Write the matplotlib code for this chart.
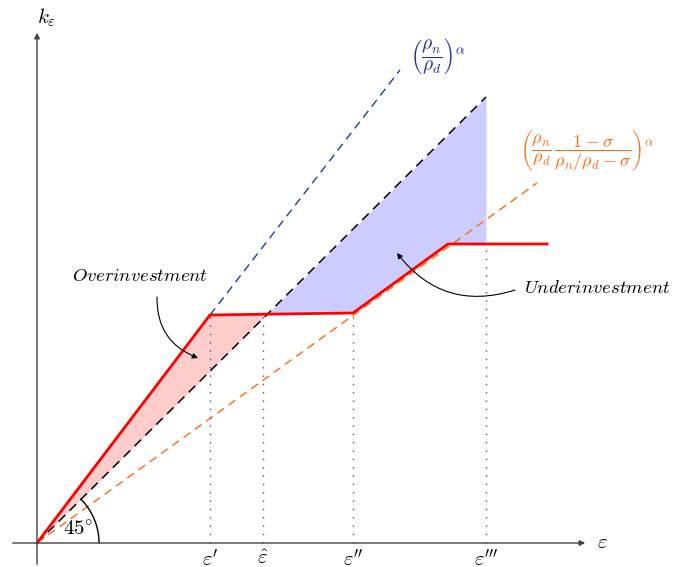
import numpy as np
import matplotlib.pyplot as plt

plt.rcParams['mathtext.fontset'] = 'cm'
plt.rcParams['font.family'] = 'serif'
plt.rcParams['font.serif'] = ['DejaVu Serif']

# points (origin at the axes crossing)
eps_labels = [r"$\varepsilon'$", r"$\hat{\varepsilon}$", r"$\varepsilon''$", r"$\varepsilon'''$"]
eps_vals = [173, 226, 316, 449]

red_x = [0, 173, 316, 411, 510]
red_y = [0, 228, 230, 299, 299]

diag_end = (449, 446)      # 45 degree line
blue_start = (173, 228)
blue_end = (363, 473)      # (rho_n/rho_d)^alpha
orange_end = (500, 360)

fig = plt.figure(figsize=(6.78, 5.67), dpi=100)
ax = fig.add_axes([0, 0, 1, 1])
ax.set_xlim(-37, 641)
ax.set_ylim(-24, 543)
ax.axis('off')

# axes with arrows
ax.annotate('', xy=(551, 0), xytext=(-27, 0),
            arrowprops=dict(arrowstyle='-|>', color='#444444', lw=1.0, mutation_scale=8))
ax.annotate('', xy=(0, 513), xytext=(0, -24),
            arrowprops=dict(arrowstyle='-|>', color='#444444', lw=1.0, mutation_scale=8))
ax.text(0, 525, r'$k_\varepsilon$', fontsize=15, ha='left', va='center')
ax.text(560, 0, r'$\varepsilon$', fontsize=15, ha='left', va='center')

slope = diag_end[1] / diag_end[0]

# shaded regions
xs = np.linspace(0, eps_vals[1], 50)
ax.fill_between(xs, np.interp(xs, red_x, red_y), xs * slope, color='#ffcccc', lw=0)
xs = np.linspace(eps_vals[1], eps_vals[3], 200)
ax.fill_between(xs, np.interp(xs, red_x, red_y), xs * slope,
                where=xs * slope >= np.interp(xs, red_x, red_y),
                color='#ccccff', lw=0)

# reference lines
ax.plot([0, diag_end[0]], [0, diag_end[1]], color='black', ls=(0, (6, 4)), lw=1.1)
ax.plot([blue_start[0], blue_end[0]], [blue_start[1], blue_end[1]],
        color='#1f3f9f', ls=(0, (6, 4)), lw=1.0)
ax.plot([0, orange_end[0]], [0, orange_end[1]], color='#ff6a10', ls=(0, (6, 4)), lw=1.0)

# dotted verticals
for e in eps_vals:
    top = np.interp(e, red_x, red_y)
    ax.plot([e, e], [0, top], color='#555555', ls=(0, (1, 5)), lw=1.0)

ax.plot(red_x, red_y, color='red', lw=2.0, solid_joinstyle='miter')

for lab, e in zip(eps_labels, eps_vals):
    ax.text(e, -6, lab, fontsize=15, ha='center', va='top')

# 45 degree arc
th = np.linspace(0, np.deg2rad(44.8), 50)
ax.plot(62 * np.cos(th), 62 * np.sin(th), color='black', lw=1.0)
ax.text(41, 13, r'$45^{\circ}$', fontsize=15, ha='center', va='center')

# curve labels
ax.text(373, 487, r'$\left(\dfrac{\rho_n}{\rho_d}\right)^{\alpha}$', color='#1f2fa0',
        fontsize=14, ha='left', va='center')
ax.text(483, 392, r'$\left(\dfrac{\rho_n}{\rho_d}\,\dfrac{1-\sigma}{\rho_n/\rho_d-\sigma}\right)^{\alpha}$',
        color='#ff6a10', fontsize=13, ha='left', va='center')

ax.text(103, 267, r'$Overinvestment$', fontsize=13.5, ha='center', va='center')
ax.annotate('', xy=(161, 185), xytext=(120, 246),
            arrowprops=dict(arrowstyle='-|>', color='black', lw=0.8, mutation_scale=8,
                            connectionstyle='arc3,rad=0.35', shrinkA=0, shrinkB=0))
ax.text(487, 255, r'$Underinvestment$', fontsize=13.5, ha='left', va='center')
ax.annotate('', xy=(360, 290), xytext=(478, 253),
            arrowprops=dict(arrowstyle='-|>', color='black', lw=0.8, mutation_scale=8,
                            connectionstyle='arc3,rad=-0.35', shrinkA=0, shrinkB=0))

fig.savefig('out.png', dpi=100)
